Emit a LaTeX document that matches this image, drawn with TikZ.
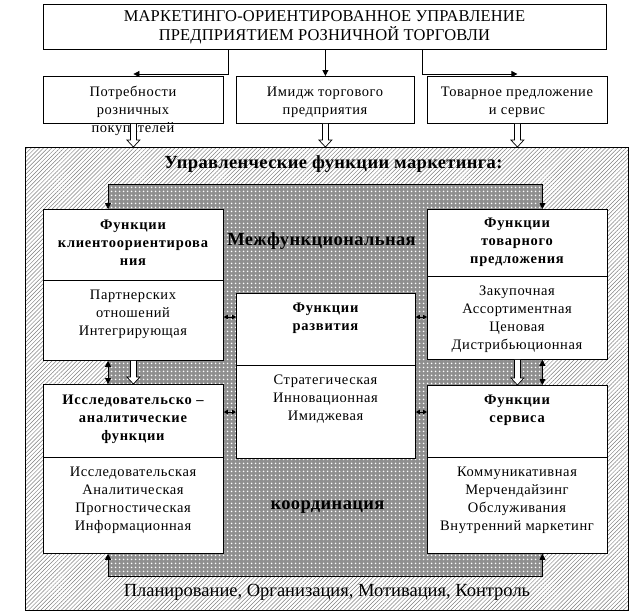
\documentclass[tikz,border=0pt]{standalone}
\usepackage{fontspec}
\setmainfont{Liberation Serif}
\newfontfamily\bodyfam[LetterSpace=4]{Liberation Serif}
\newfontfamily\hdrfam[LetterSpace=5]{Liberation Serif}
\newfontfamily\capfam[LetterSpace=1]{Liberation Serif}
\newfontfamily\bigfam[LetterSpace=2]{Liberation Serif}
\usetikzlibrary{arrows.meta,patterns.meta,calc}
\newcommand\ml[1]{\begin{tabular}[t]{@{}c@{}}#1\end{tabular}}
\newcommand\hollow[2]{\draw[hollowarr] let \p1=#1, \p2=#2 in
  (\x1-3pt,\y1) -- (\x1-3pt,\y2+7pt) -- (\x1-6.5pt,\y2+7pt) -- (\x1,\y2)
  -- (\x1+6.5pt,\y2+7pt) -- (\x1+3pt,\y2+7pt) -- (\x1+3pt,\y1);}
\tikzset{
  box/.style={draw, fill=white, line width=0.8pt, inner sep=0, anchor=north west},
  body/.style={anchor=base, inner sep=0, font={\bodyfam\fontsize{14.5}{18}\selectfont}},
  hdr/.style={anchor=base, inner sep=0, font={\hdrfam\bfseries\fontsize{14.5}{18}\selectfont}},
  captxt/.style={anchor=base, inner sep=0, font={\capfam\fontsize{16.5}{18.5}\selectfont}},
  bigbold/.style={anchor=base, inner sep=0, font={\bigfam\bfseries\fontsize{18.5}{20}\selectfont}},
  bigreg/.style={anchor=base, inner sep=0, font={\fontsize{18.5}{20}\selectfont}},
  arr/.style={line width=0.8pt, -{Triangle[length=6pt,width=6pt]}},
  dbl/.style={line width=0.8pt, {Triangle[length=6pt,width=6pt]}-{Triangle[length=6pt,width=6pt]}},
  tinyarr/.style={line width=0.8pt, {Triangle[length=4pt,width=4.5pt]}-{Triangle[length=4pt,width=4.5pt]}},
  hollowarr/.style={draw, fill=white, line width=0.7pt},
  hatched/.style={draw, line width=0.8pt, inner sep=0, anchor=north west,
    pattern={Lines[angle=45,distance=2.9pt,line width=0.5pt]}, pattern color=black!50},
  dotted grey/.style={inner sep=0, anchor=north west, fill=gray!88,
    postaction={pattern={Dots[distance=4pt,radius=1.1pt]}, pattern color=white}}
}
\begin{document}
\begin{tikzpicture}[x=1pt,y=-1pt]
\useasboundingbox (0,0) rectangle (642,614);
\fill[white] (0,0) rectangle (642,614);

% containers
\node[hatched, minimum width=603pt, minimum height=463pt] (outer) at (25,147) {};
\node[dotted grey, minimum width=434pt, minimum height=392pt] (grey) at (108,184) {};

% top boxes
\node[box, minimum width=563pt, minimum height=45pt] (top) at (43,4) {};
\node[box, minimum width=180pt, minimum height=47pt] (b1) at (43,76) {};
\node[box, minimum width=178pt, minimum height=47pt] (b2) at (236,76) {};
\node[box, minimum width=180pt, minimum height=47pt] (b3) at (427,76) {};

% function boxes
\node[box, minimum width=180pt, minimum height=71pt] (Ah) at (43,209) {};
\node[box, minimum width=180pt, minimum height=80pt] (Ab) at (43,280) {};
\node[box, minimum width=180pt, minimum height=73pt] (Bh) at (43,384) {};
\node[box, minimum width=180pt, minimum height=96pt] (Bb) at (43,457) {};
\node[box, minimum width=180pt, minimum height=67pt] (Ch) at (427,209) {};
\node[box, minimum width=180pt, minimum height=83pt] (Cb) at (427,276) {};
\node[box, minimum width=180pt, minimum height=72pt] (Dh) at (427,385) {};
\node[box, minimum width=180pt, minimum height=96pt] (Db) at (427,457) {};
\node[box, minimum width=179pt, minimum height=72pt] (Eh) at (236,293) {};
\node[box, minimum width=179pt, minimum height=93pt] (Eb) at (236,365) {};

% connectors from top box
\coordinate (k1) at (228,74);
\coordinate (k3) at (422,74);
\draw[arr] (top.south -| k1) -- (k1) -- (b1.north |- k1);
\draw[arr] (top.south -| b2.north) -- (b2.north);
\draw[arr] (top.south -| k3) -- (k3) -- (b3.north |- k3);

% grey frame connectors
\draw[dbl] (Ah.north -| grey.west) -- (grey.north west) -- (grey.north east) -- (Ch.north -| grey.east);
\draw[dbl] (Bb.south -| grey.west) -- (grey.south west) -- (grey.south east) -- (Db.south -| grey.east);
\draw[dbl] (Ab.south -| grey.west) -- (Bh.north -| grey.west);
\draw[dbl] (Cb.south -| grey.east) -- (Dh.north -| grey.east);

% links to development functions
\coordinate (r1) at (0,317);
\coordinate (r2) at (0,412);
\draw[tinyarr] (Ab.east |- r1) -- (Eh.west |- r1);
\draw[tinyarr] (Eh.east |- r1) -- (Cb.west |- r1);
\draw[tinyarr] (Bh.east |- r2) -- (Eb.west |- r2);
\draw[tinyarr] (Eb.east |- r2) -- (Dh.west |- r2);

% texts
\node[captxt] (tt) at (324.5,21) {\ml{МАРКЕТИНГО-ОРИЕНТИРОВАННОЕ УПРАВЛЕНИЕ\\ПРЕДПРИЯТИЕМ РОЗНИЧНОЙ ТОРГОВЛИ}};
\node[body] (b1t) at (133,96) {\ml{Потребности\\розничных\\покупателей}};
\node[body] (b2t) at (325,96) {\ml{Имидж торгового\\предприятия}};
\node[body] (b3t) at (517,96) {\ml{Товарное предложение\\и сервис}};

\node[bigbold] (title) at (333.5,168) {Управленческие функции маркетинга:};
\node[bigbold] (mf) at (321.5,245) {Межфункциональная};
\node[bigbold] (coord) at (327.5,509) {координация};
\node[bigreg] (plan) at (327,596) {Планирование, Организация, Мотивация, Контроль};

\node[hdr] (Aht) at (133,229) {\ml{Функции\\клиентоориентирова\\ния}};
\node[body] (Abt) at (133,299) {\ml{Партнерских\\отношений\\Интегрирующая}};
\node[hdr] (Eht) at (325.5,312) {\ml{Функции\\развития}};
\node[body] (Ebt) at (325.5,384) {\ml{Стратегическая\\Инновационная\\Имиджевая}};
\node[hdr] (Cht) at (517,227) {\ml{Функции\\товарного\\предложения}};
\node[body] (Cbt) at (517,295) {\ml{Закупочная\\Ассортиментная\\Ценовая\\Дистрибьюционная}};
\node[hdr] (Bht) at (133,404) {\ml{Исследовательско –\\аналитические\\функции}};
\node[body] (Bbt) at (133,476) {\ml{Исследовательская\\Аналитическая\\Прогностическая\\Информационная}};
\node[hdr] (Dht) at (517,404) {\ml{Функции\\сервиса}};
\node[body] (Dbt) at (517,476) {\ml{Коммуникативная\\Мерчендайзинг\\Обслуживания\\Внутренний маркетинг}};

% hollow arrows
\hollow{(b1.south)}{(b1.south |- outer.north)}
\hollow{(b2.south)}{(b2.south |- outer.north)}
\hollow{(b3.south)}{(b3.south |- outer.north)}
\hollow{(Ab.south)}{(Bh.north)}
\hollow{(Cb.south)}{(Dh.north)}
\end{tikzpicture}
\end{document}
